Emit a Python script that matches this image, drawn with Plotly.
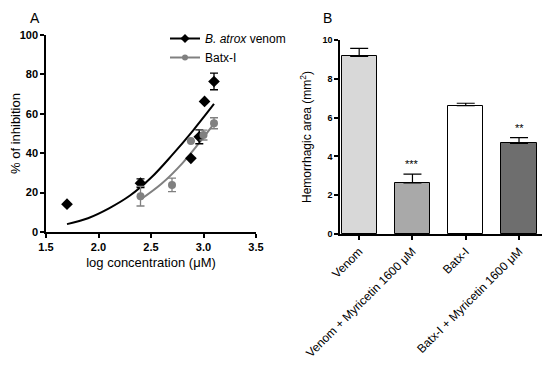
import plotly.graph_objects as go

# ---- Panel A data ----
venom_x = [1.70, 2.40, 2.88, 2.96, 3.01, 3.10]
venom_y = [14.1, 24.8, 37.4, 48.3, 66.3, 76.4]
venom_err = [0, 2.2, 0, 3.5, 0, 4.2]

batx_x = [2.40, 2.70, 2.88, 3.00, 3.10]
batx_y = [18.2, 23.9, 46.2, 49.2, 55.2]
batx_err = [5.0, 3.4, 0, 2.5, 2.8]

venom_fit_x = [1.7, 1.9, 2.1, 2.3, 2.5, 2.7, 2.9, 3.1]
venom_fit_y = [4.0, 7.0, 12.0, 18.5, 27.5, 39.0, 51.5, 65.0]
batx_fit_x = [2.4, 2.6, 2.8, 3.0, 3.1]
batx_fit_y = [16.5, 24.5, 35.0, 48.0, 55.0]

xticks_a = [1.5, 2.0, 2.5, 3.0, 3.5]
xtick_labels_a = ["1.5", "2.0", "2.5", "3.0", "3.5"]
yticks_a = [0, 20, 40, 60, 80, 100]

# ---- Panel B data ----
groups = ["Venom", "Venom + Myricetin 1600 \u03bcM", "Batx-I", "Batx-I + Myricetin 1600 \u03bcM"]
area = [9.15, 2.63, 6.62, 4.67]
area_err = [0.42, 0.46, 0.12, 0.30]
bar_colors = ["#d8d8d8", "#a9a9a9", "#ffffff", "#6e6e6e"]
signif = ["", "***", "", "**"]
yticks_b = [0, 2, 4, 6, 8, 10]

BLACK = "#000000"
GRAY = "#808080"
FONT = "Liberation Sans, Arial, sans-serif"

# page body has an 8px margin; figure fills the rest of the window
OFF = 8
W, H = 550 - OFF, 365 - OFF


def px_x(p):
    return (p - OFF) / W


def px_y(p):
    return 1 - (p - OFF) / H


fig = go.Figure()

# fit curves
fig.add_trace(go.Scatter(x=venom_fit_x, y=venom_fit_y, mode="lines", line=dict(color=BLACK, width=2, shape="spline"),
                         showlegend=False, xaxis="x", yaxis="y", hoverinfo="skip"))
fig.add_trace(go.Scatter(x=batx_fit_x, y=batx_fit_y, mode="lines", line=dict(color=GRAY, width=2, shape="spline"),
                         showlegend=False, xaxis="x", yaxis="y", hoverinfo="skip"))
# data points
fig.add_trace(go.Scatter(x=venom_x, y=venom_y, mode="markers",
                         marker=dict(symbol="diamond", size=9, color=BLACK),
                         error_y=dict(type="data", array=venom_err, color=BLACK, thickness=1.3, width=4),
                         showlegend=False, xaxis="x", yaxis="y"))
fig.add_trace(go.Scatter(x=batx_x, y=batx_y, mode="markers",
                         marker=dict(symbol="circle", size=8, color=GRAY),
                         error_y=dict(type="data", array=batx_err, color=GRAY, thickness=1.3, width=4),
                         showlegend=False, xaxis="x", yaxis="y"))
# legend entries
fig.add_trace(go.Scatter(x=[None], y=[None], mode="lines+markers", name="<i>B. atrox</i> venom",
                         line=dict(color=BLACK, width=2), marker=dict(symbol="diamond", size=7, color=BLACK),
                         xaxis="x", yaxis="y"))
fig.add_trace(go.Scatter(x=[None], y=[None], mode="lines+markers", name="Batx-I",
                         line=dict(color=GRAY, width=2), marker=dict(symbol="circle", size=6, color=GRAY),
                         xaxis="x", yaxis="y"))

# bars
fig.add_trace(go.Bar(x=list(range(len(groups))), y=area, width=0.66,
                     marker=dict(color=bar_colors, line=dict(color=BLACK, width=1)),
                     error_y=dict(type="data", array=area_err, arrayminus=[0] * len(area), symmetric=False,
                                  color=BLACK, thickness=1.2, width=9),
                     showlegend=False, xaxis="x2", yaxis="y2"))

annotations = []
for i, s in enumerate(signif):
    if s:
        annotations.append(dict(x=i, y=area[i] + area_err[i], yshift=2, text=s, showarrow=False,
                                xref="x2", yref="y2", yanchor="bottom", font=dict(size=11, color=BLACK, family=FONT)))
annotations.append(dict(x=px_x(35), y=1, xref="paper", yref="paper", text="A", showarrow=False,
                        xanchor="center", yanchor="top", font=dict(size=14, color=BLACK, family=FONT)))
annotations.append(dict(x=px_x(327), y=1, xref="paper", yref="paper", text="B", showarrow=False,
                        xanchor="center", yanchor="top", font=dict(size=14, color=BLACK, family=FONT)))

axis_common = dict(showline=True, linecolor=BLACK, linewidth=1.5, ticks="outside", tickcolor=BLACK,
                   ticklen=4, tickwidth=1.5, showgrid=False, zeroline=False, mirror=False, automargin=False)

fig.update_layout(
    width=W, height=H,
    margin=dict(l=0, r=0, t=0, b=0),
    paper_bgcolor="white", plot_bgcolor="white",
    font=dict(family=FONT, color=BLACK),
    xaxis=dict(domain=[px_x(46), px_x(256)], range=[1.5, 3.5], tickvals=xticks_a, ticktext=xtick_labels_a,
               tickfont=dict(size=11, weight="bold"),
               title=dict(text="log concentration (\u03bcM)", font=dict(size=13), standoff=6),
               anchor="y", **axis_common),
    yaxis=dict(domain=[px_y(232), px_y(35)], range=[0, 100], tickvals=yticks_a,
               tickfont=dict(size=11, weight="bold"),
               title=dict(text="% of inhibition", font=dict(size=13), standoff=6),
               anchor="x", **axis_common),
    xaxis2=dict(domain=[px_x(340), px_x(543)], range=[-0.36, 3.45], tickvals=list(range(len(groups))),
                ticktext=groups, tickangle=-45, tickfont=dict(size=12),
                anchor="y2", **axis_common),
    yaxis2=dict(domain=[px_y(234), px_y(40)], range=[0, 10], tickvals=yticks_b,
                tickfont=dict(size=9, weight="bold"),
                title=dict(text="Hemorrhagic area (mm<sup>2</sup>)", font=dict(size=12), standoff=8),
                anchor="x2", **axis_common),
    legend=dict(x=px_x(165), y=px_y(24), xanchor="left", yanchor="top", bgcolor="rgba(0,0,0,0)",
                font=dict(size=12), tracegroupgap=0),
    annotations=annotations,
    bargap=0,
)

fig.write_html("out.html")
